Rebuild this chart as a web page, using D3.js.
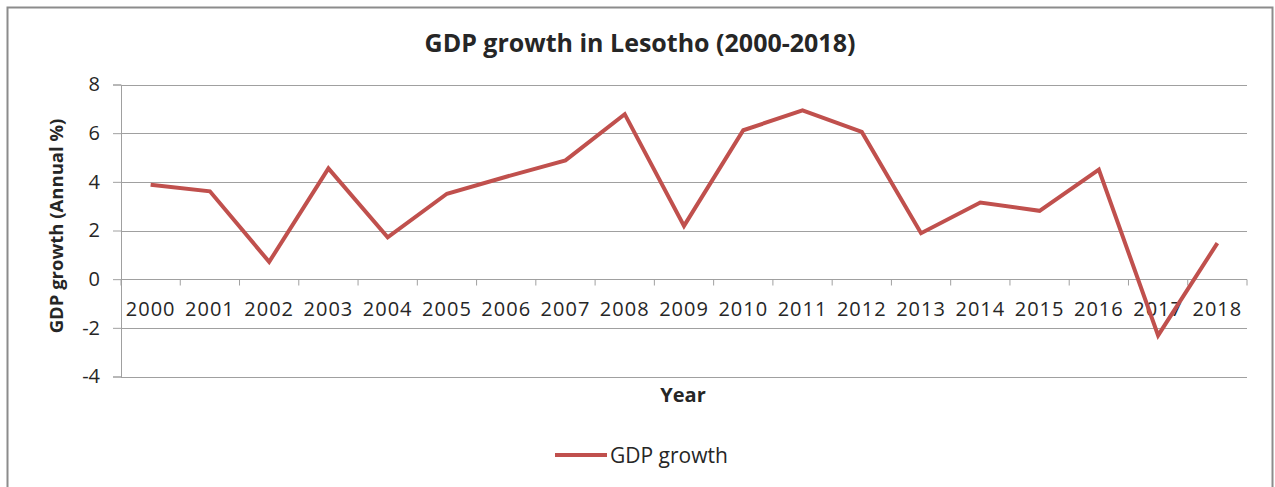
<!DOCTYPE html>
<html>
<head>
<meta charset="utf-8">
<script src="https://cdn.jsdelivr.net/npm/d3@7"></script>
<style>
  body { margin: 0; background: #fff; }
  text { font-family: "Open Sans", "Noto Sans", sans-serif; fill: #262626; }
</style>
</head>
<body>
<div id="chart"></div>
<script>
// Data
const years = ["2000", "2001", "2002", "2003", "2004", "2005", "2006", "2007", "2008", "2009",
  "2010", "2011", "2012", "2013", "2014", "2015", "2016", "2017", "2018"];
const growth = [3.88, 3.61, 0.71, 4.55, 1.72, 3.51, 4.21, 4.88, 6.78, 2.19,
  6.12, 6.94, 6.05, 1.89, 3.15, 2.81, 4.50, -2.31, 1.48];
const yTicks = [-4, -2, 0, 2, 4, 6, 8];

const width = 1275, height = 487;
const lineColor = "#c0504d";

const svg = d3.select("#chart")
  .append("svg")
  .attr("width", width)
  .attr("height", height);

// outer chart border
svg.append("rect")
  .attr("x", 7.5).attr("y", 7.5)
  .attr("width", 1265).attr("height", 490)
  .attr("fill", "white")
  .attr("stroke", "#8c8c8c")
  .attr("stroke-width", 2);

// scales
const x = d3.scaleBand().domain(years).range([121, 1247]).padding(0);
const y = d3.scaleLinear().domain([-4, 8]).range([376.5, 84.5]);

// y axis (plain hyphen for negatives, like the original)
const yAxis = svg.append("g")
  .attr("transform", "translate(121,0)")
  .call(d3.axisLeft(y).tickValues(yTicks).tickSize(8).tickPadding(13).tickFormat(d => String(d)));
yAxis.select(".domain").attr("stroke", "#a0a0a0");
yAxis.selectAll(".tick line").attr("stroke", "#a0a0a0");
yAxis.selectAll(".tick text")
  .attr("font-size", 20)
  .style("font-family", "'Open Sans', sans-serif")
  .attr("fill", "#262626");

// horizontal gridlines
svg.append("g")
  .selectAll("line")
  .data(yTicks)
  .join("line")
  .attr("x1", 121).attr("x2", 1247)
  .attr("y1", d => Math.round(y(d)) + 0.5)
  .attr("y2", d => Math.round(y(d)) + 0.5)
  .attr("stroke", "#a0a0a0")
  .attr("stroke-width", 1.2);

// x axis on zero line, ticks at category boundaries
const zeroY = Math.round(y(0)) + 0.5;
const bounds = d3.range(years.length + 1).map(i => x.range()[0] + i * x.step());
svg.append("g")
  .selectAll("line")
  .data(bounds)
  .join("line")
  .attr("x1", d => d).attr("x2", d => d)
  .attr("y1", zeroY).attr("y2", zeroY + 6)
  .attr("stroke", "#a0a0a0");

const xAxis = svg.append("g")
  .attr("transform", `translate(0,${zeroY})`)
  .call(d3.axisBottom(x).tickSize(0).tickPadding(22));
xAxis.select(".domain").remove();
xAxis.selectAll(".tick text")
  .attr("font-size", 20)
  .attr("letter-spacing", 1)
  .style("font-family", "'Open Sans', sans-serif")
  .attr("fill", "#262626");

// the line
const line = d3.line()
  .x((d, i) => x(years[i]) + x.bandwidth() / 2)
  .y(d => y(d));

svg.append("path")
  .datum(growth)
  .attr("d", line)
  .attr("fill", "none")
  .attr("stroke", lineColor)
  .attr("stroke-width", 4)
  .attr("stroke-linejoin", "miter");

// titles
svg.append("text")
  .attr("x", 640).attr("y", 52)
  .attr("text-anchor", "middle")
  .attr("font-size", 25)
  .attr("font-weight", "bold")
  .attr("fill", "#000")
  .text("GDP growth in Lesotho (2000-2018)");

svg.append("text")
  .attr("transform", "translate(63,226) rotate(-90)")
  .attr("text-anchor", "middle")
  .attr("font-size", 18.5)
  .attr("font-weight", "bold")
  .attr("fill", "#000")
  .text("GDP growth (Annual %)");

svg.append("text")
  .attr("x", 683).attr("y", 402)
  .attr("text-anchor", "middle")
  .attr("font-size", 20)
  .attr("font-weight", "bold")
  .attr("fill", "#000")
  .text("Year");

// legend
const legend = svg.append("g").attr("transform", "translate(555,455)");
legend.append("line")
  .attr("x1", 0).attr("x2", 52)
  .attr("y1", 0).attr("y2", 0)
  .attr("stroke", lineColor)
  .attr("stroke-width", 4);
legend.append("text")
  .attr("x", 55).attr("y", 7.5)
  .attr("font-size", 21)
  .attr("fill", "#262626")
  .text("GDP growth");
</script>
</body>
</html>
